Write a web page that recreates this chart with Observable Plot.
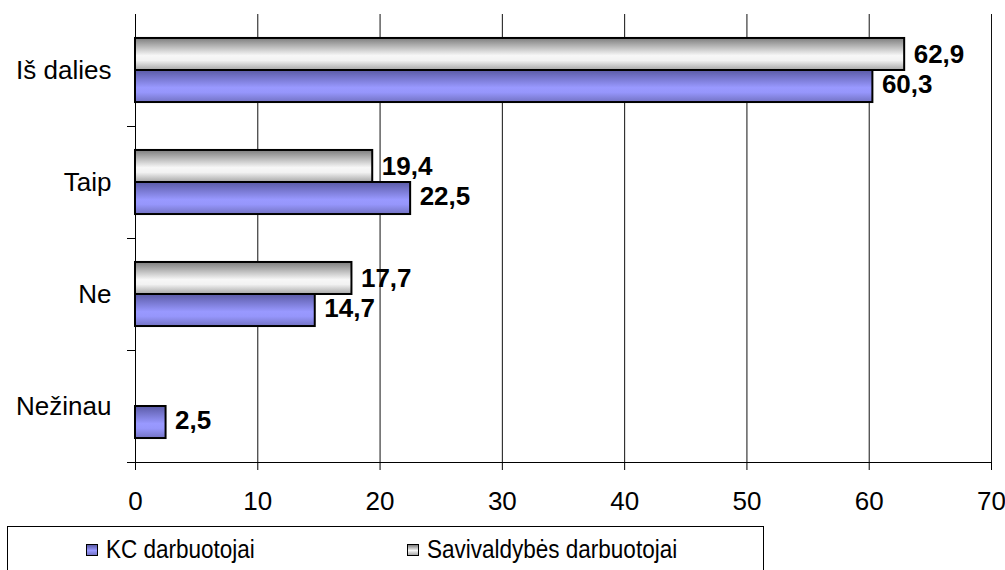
<!DOCTYPE html>
<html><head><meta charset="utf-8">
<script src="https://cdn.jsdelivr.net/npm/d3@7"></script>
<script src="https://cdn.jsdelivr.net/npm/@observablehq/plot@0.6"></script>
<style>
body{margin:0;background:#fff;font-family:"Liberation Sans",Arial,sans-serif;}
#chart{position:relative;width:1005px;height:570px;overflow:hidden;background:#fff}
#legend{position:absolute;left:7px;top:526px;width:757px;height:70px;border:1px solid #000;box-sizing:border-box;}
.item{position:absolute;top:8px;display:flex;align-items:center;font-size:25px;color:#000;white-space:nowrap}
.sw{width:10px;height:10px;border:1.5px solid #000;margin-right:8px;flex:none}
.lt{display:inline-block;transform:scaleX(0.9);transform-origin:0 50%}
</style></head><body><div id="chart"><div id="legend"></div></div>
<script>
const categories = ["Iš dalies", "Taip", "Ne", "Nežinau"];
const kcValues = [60.3, 22.5, 14.7, 2.5];
const savValues = [62.9, 19.4, 17.7, null];
const seriesNames = ["KC darbuotojai", "Savivaldybės darbuotojai"];
const xTicks = [0, 10, 20, 30, 40, 50, 60, 70];

// each category occupies one unit of y; bars sit in the middle of it
const barStart = 0.214, barSize = 0.286;
const savRows = categories.map((c, i) => ({cat: c, value: savValues[i], y1: i + barStart, y2: i + barStart + barSize})).filter(d => d.value != null);
const kcRows = categories.map((c, i) => ({cat: c, value: kcValues[i], y1: i + barStart + barSize, y2: i + barStart + 2 * barSize})).filter(d => d.value != null);
const fmt = d => d.value.toFixed(1).replace(".", ",");
const font = '"Liberation Sans", Arial, sans-serif';

const plot = Plot.plot({
  width: 1005, height: 516,
  marginTop: 14, marginBottom: 54, marginLeft: 135, marginRight: 14,
  style: {fontFamily: font, fontSize: "26px", color: "#000", background: "#fff", overflow: "visible"},
  x: {domain: [0, 70], label: null},
  y: {type: "linear", domain: [0, 4], reverse: true, label: null},
  marks: [
    Plot.gridX(xTicks.filter(t => t > 0), {stroke: "#111", strokeOpacity: 1, strokeWidth: 1}),
    Plot.rect(savRows, {x1: 0, x2: "value", y1: "y1", y2: "y2", fill: "url(#gSav)", stroke: "#000", strokeWidth: 2}),
    Plot.rect(kcRows, {x1: 0, x2: "value", y1: "y1", y2: "y2", fill: "url(#gKC)", stroke: "#000", strokeWidth: 2}),
    Plot.text(savRows, {x: "value", y: d => (d.y1 + d.y2) / 2, text: fmt, textAnchor: "start", dx: 9, fontWeight: "bold", fontSize: 26}),
    Plot.text(kcRows, {x: "value", y: d => (d.y1 + d.y2) / 2, text: fmt, textAnchor: "start", dx: 9, dy: -2, fontWeight: "bold", fontSize: 26}),
    Plot.ruleX([0], {stroke: "#000"}),
    Plot.ruleY([4], {stroke: "#000"}),
    Plot.axisY(categories.map((c, i) => i + 0.5), {tickSize: 0, tickPadding: 24, tickFormat: d => categories[Math.floor(d)], fontSize: 26, label: null}),
    Plot.axisY([1, 2, 3, 4], {tickSize: 8, text: null, label: null, stroke: "#000"}),
    Plot.axisX(xTicks, {tickSize: 8, tickPadding: 21, fontSize: 26, label: null, stroke: "#000"})
  ]
});

const defs = d3.select(plot).insert("defs", ":first-child");
function grad(id, stops) {
  const g = defs.append("linearGradient").attr("id", id).attr("x1", 0).attr("y1", 0).attr("x2", 0).attr("y2", 1);
  stops.forEach(([o, c]) => g.append("stop").attr("offset", o).attr("stop-color", c));
}
grad("gKC", [[0, "#5a5aa6"], [0.55, "#9999ff"], [0.7, "#9696fb"], [1, "#7373c4"]]);
grad("gSav", [[0, "#7d7d7d"], [0.55, "#f7f7f7"], [0.7, "#f2f2f2"], [1, "#a6a6a6"]]);

const chart = document.getElementById("chart");
chart.insertBefore(plot, chart.firstChild);
plot.style.position = "absolute"; plot.style.left = "0"; plot.style.top = "0";

const legend = document.getElementById("legend");
const items = [
  {name: seriesNames[0], left: 78, bg: "linear-gradient(#5a5aa6, #9999ff 55%, #7373c4)"},
  {name: seriesNames[1], left: 399, bg: "linear-gradient(#7d7d7d, #f7f7f7 55%, #a6a6a6)"}
];
items.forEach(it => {
  const d = document.createElement("div");
  d.className = "item"; d.style.left = it.left + "px";
  const s = document.createElement("span"); s.className = "sw"; s.style.background = it.bg;
  const t = document.createElement("span"); t.className = "lt"; t.textContent = it.name;
  d.appendChild(s); d.appendChild(t); legend.appendChild(d);
});
</script>
</body></html>
